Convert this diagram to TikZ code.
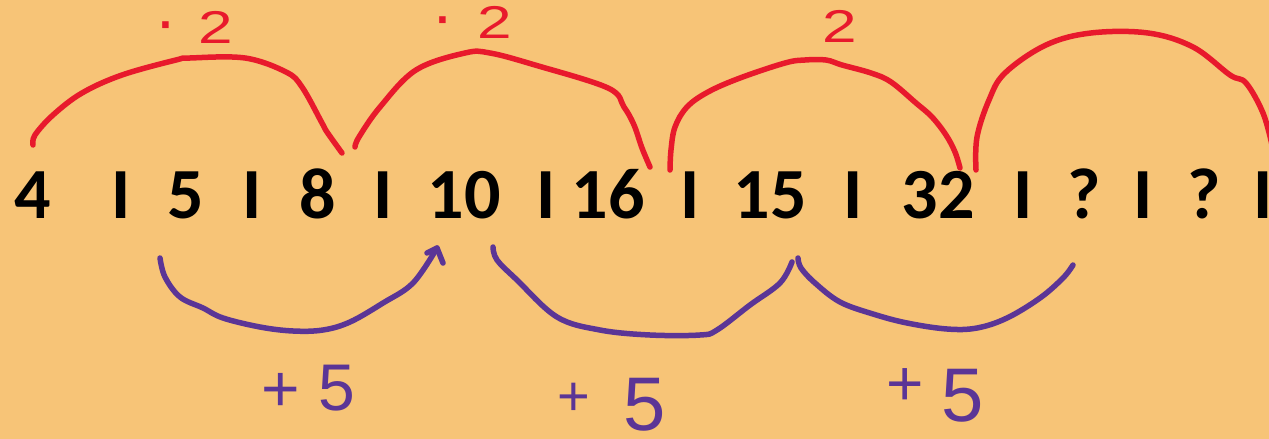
\documentclass[tikz,border=0pt]{standalone}
\usepackage{fontspec}
\setmainfont{Carlito}
\newfontfamily\handfont{Liberation Sans}
\definecolor{bg}{HTML}{F7C477}
\definecolor{redink}{HTML}{E8192C}
\definecolor{purpleink}{HTML}{5B3596}
\tikzset{
  num/.style={font=\fontsize{72}{72}\selectfont\bfseries, anchor=base, inner sep=0pt, text=black},
  redarc/.style={draw=redink, line width=5.5pt, line cap=round, line join=round},
  purarc/.style={draw=purpleink, line width=5.5pt, line cap=round, line join=round},
  redlbl/.style={font=\handfont\fontsize{46}{46}\selectfont, text=redink, anchor=base, inner sep=0pt},
  purlbl/.style={font=\handfont\fontsize{#1}{#1}\selectfont, text=purpleink, anchor=base, inner sep=0pt},
}
\newcommand{\wtwo}{\scalebox{1.35}[1]{2}}
\newcommand{\wdot}{\raisebox{3pt}{\textbf{·}}}
\begin{document}
\begin{tikzpicture}[x=1pt,y=-1pt]
\fill[bg] (0,0) rectangle (1269,439);
\useasboundingbox (0,0) rectangle (1269,439);

% sequence
\node[num] (n1) at (33,218) {4};
\node[num] (b1) at (121,218) {I};
\node[num] (n2) at (186,218) {5};
\node[num] (b2) at (252,218) {I};
\node[num] (n3) at (318,218) {8};
\node[num] (b3) at (383,218) {I};
\node[num] (n4) at (464,218) {10};
\node[num] (b4) at (546,218) {I};
\node[num] (n5) at (608,218) {16};
\node[num] (b5) at (690,218) {I};
\node[num] (n6) at (770,218) {15};
\node[num] (b6) at (853,218) {I};
\node[num] (n7) at (938,218) {32};
\node[num] (b7) at (1023,218) {I};
\node[num] (n8) at (1084,218) {?};
\node[num] (b8) at (1143,218) {I};
\node[num] (n9) at (1204,218) {?};
\node[num] (b9) at (1263,218) {I};

% red arcs
\coordinate (r1s) at (33,145);  \coordinate (r1e) at (342,153);
\coordinate (r2s) at (355,147); \coordinate (r2e) at (650,167);
\coordinate (r3s) at (670,170); \coordinate (r3e) at (960,168);
\coordinate (r4s) at (976,170); \coordinate (r4e) at (1272,145);
\draw[redarc] plot[smooth, tension=0.6] coordinates {(r1s) (35,135) (53,115) (82,93) (122,75) (176,60) (190,58) (245,58) (286,72) (302,87) (322,123) (327,132) (r1e)};
\draw[redarc] plot[smooth, tension=0.6] coordinates {(r2s) (359,137) (380,107) (416,70) (465,53) (490,53) (535,65) (608,88) (624,107) (634,125) (642,148) (r2e)};
\draw[redarc] plot[smooth, tension=0.6] coordinates {(r3s) (671,150) (675,127) (687,107) (708,92) (740,78) (785,63) (805,60) (826,60) (842,65) (871,73) (891,82) (916,103) (932,117) (946,135) (955,152) (r3e)};
\draw[redarc] plot[smooth, tension=0.6] coordinates {(r4s) (977,137) (989,100) (1005,73) (1046,45) (1091,33) (1148,33) (1193,47) (1230,75) (1246,83) (1263,113) (r4e)};

% red labels
\node[redlbl] (t1) at (196,43) {\wdot\hspace{24pt}\wtwo};
\node[redlbl] (t2) at (474,38) {\wdot\hspace{26pt}\wtwo};
\node[redlbl] (t3) at (840,42) {\wtwo};

% purple arcs
\coordinate (p1s) at (160,258); \coordinate (p1e) at (437,248);
\coordinate (p1a) at (427,253); \coordinate (p1b) at (443,263);
\coordinate (p2s) at (493,247); \coordinate (p2e) at (792,262);
\coordinate (p3s) at (798,258); \coordinate (p3e) at (1073,265);
\draw[purarc] plot[smooth, tension=0.6] coordinates {(p1s) (165,277) (180,297) (203,308) (223,318) (260,327) (293,331) (323,330) (350,322) (383,303) (413,283) (p1e)};
\draw[purarc] (p1a) -- (p1e) -- (p1b);
\draw[purarc] plot[smooth, tension=0.6] coordinates {(p2s) (497,260) (517,280) (557,317) (600,330) (650,335) (700,335) (717,330) (750,305) (780,283) (p2e)};
\draw[purarc] plot[smooth, tension=0.6] coordinates {(p3s) (801,268) (815,283) (840,302) (873,314) (907,323) (947,329) (977,328) (1007,318) (1040,298) (1063,278) (p3e)};

% purple labels
\node[purlbl=66] (pl1) at (281,411) {+};
\node[purlbl=66] (f1) at (337,410) {5};
\node[purlbl=56] (pl2) at (574,415) {+};
\node[purlbl=76] (f2) at (645,430) {5};
\node[purlbl=64] (pl3) at (905,405) {+};
\node[purlbl=76] (f3) at (963,421) {5};
\end{tikzpicture}
\end{document}
